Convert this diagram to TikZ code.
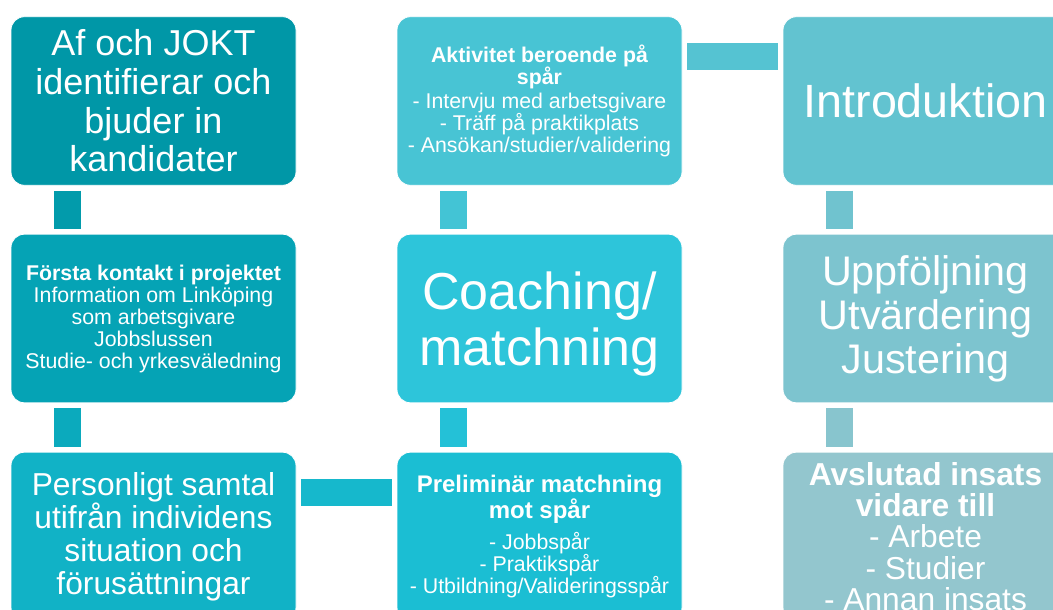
\documentclass[tikz,border=0pt]{standalone}
\usepackage{fontspec}
\setmainfont{Liberation Sans}
\usepackage{xcolor}
\usetikzlibrary{calc}
\definecolor{boxaa}{HTML}{0097A7}
\definecolor{boxab}{HTML}{05A3B5}
\definecolor{boxac}{HTML}{11B2C6}
\definecolor{boxba}{HTML}{48C4D4}
\definecolor{boxbb}{HTML}{2DC5DA}
\definecolor{boxbc}{HTML}{1BBED3}
\definecolor{boxca}{HTML}{62C3D0}
\definecolor{boxcb}{HTML}{7DC4CF}
\definecolor{boxcc}{HTML}{93C6CE}
\colorlet{linkaa}{boxaa!70!boxab}
\colorlet{linkab}{boxab!50!boxac}
\colorlet{linkac}{boxac!50!boxbc}
\colorlet{linkba}{boxba!80!boxbb}
\colorlet{linkbb}{boxbb!50!boxbc}
\colorlet{linkbc}{boxba!50!boxca}
\colorlet{linkca}{boxca!50!boxcb}
\colorlet{linkcb}{boxcb!50!boxcc}
\tikzstyle{stepbox} = [
    rectangle,
    rounded corners=10pt,
    minimum width=213.75pt,
    minimum height=126.4pt,
    inner sep=0pt,
    align=center,
    text=white,
    draw=white,
    line width=0.6pt
    ]
\tikzstyle{link} = [
    line width=20.25pt,
    shorten <=3.75pt,
    shorten >=3.75pt
    ]
\newcommand{\sizebig}{\fontsize{27pt}{29pt}\selectfont}
\newcommand{\sizesmall}{\fontsize{16pt}{16.5pt}\selectfont}

\begin{document}
\begin{tikzpicture}[x=0.75pt,y=-0.75pt]
\useasboundingbox (0,0) rectangle (1053,610);
% first column
\node[stepbox, fill=boxaa, font=\sizebig] (kandidater) at (153.5,101)
    {Af och JOKT\\identifierar och\\bjuder in\\kandidater};
\node[stepbox, fill=boxab, font=\sizesmall] (kontakt) at (153.5,318.5)
    {\textbf{Första kontakt i projektet}\\Information om Linköping\\som arbetsgivare\\Jobbslussen\\Studie- och yrkesväledning};
\node[stepbox, fill=boxac, font=\fontsize{23.8pt}{24.75pt}\selectfont] (samtal) at (153.5,536.5)
    {Personligt samtal\\utifrån individens\\situation och\\förusättningar};
% second column
\node[stepbox, fill=boxba, font=\sizesmall] (aktivitet) at (539.5,101)
    {\textbf{Aktivitet beroende på}\\\textbf{spår}\\[1pt]- Intervju med arbetsgivare\\- Träff på praktikplats\\- Ansökan/studier/validering};
\node[stepbox, fill=boxbb, font=\fontsize{39pt}{42pt}\selectfont, text depth=0pt] (coaching) at (539.5,318.5)
    {Coaching/\\matchning};
\node[stepbox, fill=boxbc, font=\sizesmall] (preliminar) at (539.5,536.5)
    {\fontsize{18pt}{19.5pt}\selectfont\textbf{Preliminär matchning}\\\fontsize{18pt}{19.5pt}\selectfont\textbf{mot spår}\\[6pt]- Jobbspår\\- Praktikspår\\- Utbildning/Valideringsspår};
% third column
\node[stepbox, fill=boxca, font=\fontsize{35pt}{38pt}\selectfont] (intro) at (925.5,101)
    {Introduktion};
\node[stepbox, fill=boxcb, font=\fontsize{31pt}{33pt}\selectfont] (uppfoljning) at (925.5,318.5)
    {Uppföljning\\Utvärdering\\Justering};
\node[stepbox, fill=boxcc, font=\fontsize{23.8pt}{23.5pt}\selectfont] (avslutad) at (925.5,536.5)
    {\textbf{Avslutad insats}\\\textbf{vidare till}\\- Arbete\\- Studier\\- Annan insats};
% connectors
\draw[link, draw=linkaa] ($(kandidater.south west)!0.2!(kandidater.south east)$) -- ($(kontakt.north west)!0.2!(kontakt.north east)$);
\draw[link, draw=linkab] ($(kontakt.south west)!0.2!(kontakt.south east)$) -- ($(samtal.north west)!0.2!(samtal.north east)$);
\draw[link, draw=linkac] ($(samtal.north east)!0.24!(samtal.south east)$) -- ($(preliminar.north west)!0.24!(preliminar.south west)$);
\draw[link, draw=linkbb] ($(preliminar.north west)!0.2!(preliminar.north east)$) -- ($(coaching.south west)!0.2!(coaching.south east)$);
\draw[link, draw=linkba] ($(coaching.north west)!0.2!(coaching.north east)$) -- ($(aktivitet.south west)!0.2!(aktivitet.south east)$);
\draw[link, draw=linkbc] ($(aktivitet.north east)!0.24!(aktivitet.south east)$) -- ($(intro.north west)!0.24!(intro.south west)$);
\draw[link, draw=linkca] ($(intro.south west)!0.2!(intro.south east)$) -- ($(uppfoljning.north west)!0.2!(uppfoljning.north east)$);
\draw[link, draw=linkcb] ($(uppfoljning.south west)!0.2!(uppfoljning.south east)$) -- ($(avslutad.north west)!0.2!(avslutad.north east)$);
\end{tikzpicture}
\end{document}
